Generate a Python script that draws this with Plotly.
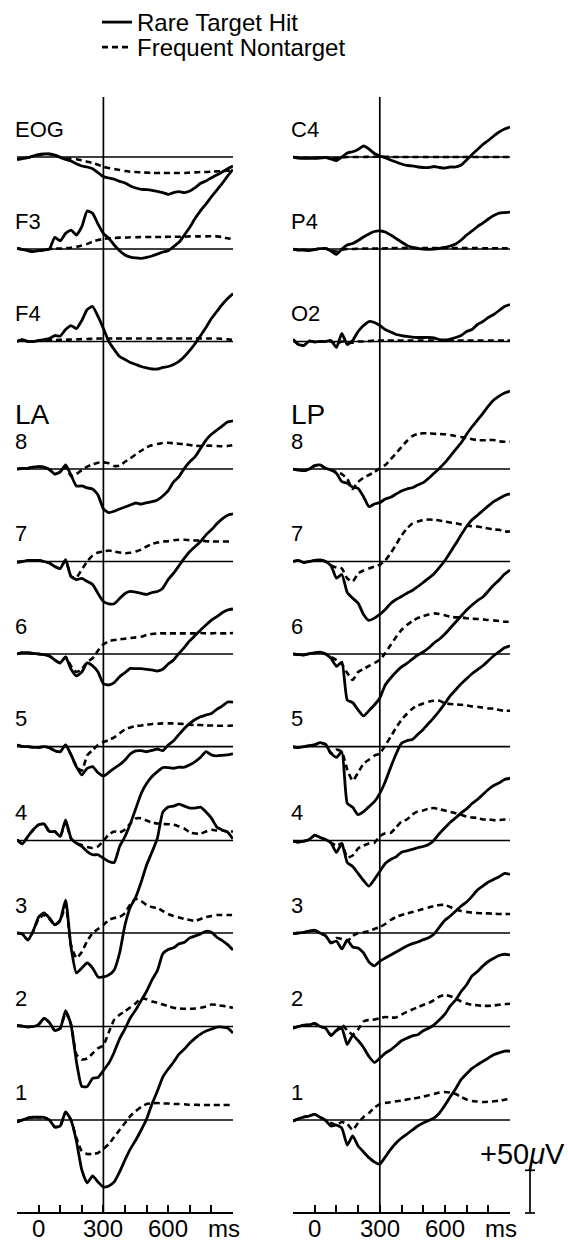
import plotly.graph_objects as go

# ---------------- data (time in ms, amplitudes in microvolts) ----------------
T_MS = [-100, -75, -50, -25, 0, 25, 50, 75, 100, 125, 150, 175, 200, 225, 250, 275, 300,
        325, 350, 375, 400, 425, 450, 475, 500, 525, 550, 575, 600, 625, 650, 675, 700,
        725, 750, 775, 800, 825, 850, 875, 900]

EOG_HIT = [-2.7,-2,-0.8,1.2,2.7,3.5,3.5,2.3,-0.4,-2.7,-4.7,-7.8,-10.5,-11.7,-13.7,-18.3,-23,-24.6,-26,-28.5,-30.4,-34,-36.3,-37.8,-38.2,-39,-40.2,-41.7,-43.7,-41.7,-40.6,-41.7,-39.8,-35.9,-30.8,-28,-24.2,-21,-17.5,-13.7,-10.5]
EOG_NON = [-2.7,-2,-0.8,1.2,2.7,3.5,3.5,2.3,-0.4,-2,-2,-2.7,-3.9,-5.5,-7,-9,-11.3,-12.9,-14,-15.2,-16.4,-17.2,-17.6,-18,-18.3,-18.7,-18.7,-18.7,-18.7,-18.7,-18.7,-18.7,-18.3,-18,-17.6,-17.6,-17.2,-16.8,-16.4,-16,-15.2]
F3_HIT = [0.8,-0.4,-2,-3.1,-2,-1.2,0,13.7,9.4,18.3,22.2,16.4,26.1,44.5,41.7,29.3,18.3,12.5,4.7,-2,-7,-9.4,-10.5,-10.9,-9.8,-8.2,-5.9,-3.5,-2,2.7,7.8,16.4,25.4,35.9,44.9,52.7,61.2,69,76.8,85.4,93.2]
F3_NON = [0.8,-0.4,-2,-3.1,-2,-1.2,0,0.5,0.5,1,1.5,2.5,4,6,8.6,10.5,11.7,12.5,12.9,13.3,13.3,13.7,13.7,14,14,14,14,14,14.4,14.4,14.4,14.4,14.8,14.8,14.8,14.8,15,14.8,14,12.5,11.7]
F4_HIT = [0,2.3,0,0,1.2,2.3,3.5,7,6.4,14,18.7,15.2,24.6,37.4,41,29.3,15.2,0,-9.4,-17.6,-21,-24.6,-26.9,-29.3,-31,-32.2,-32.2,-30.4,-29.3,-26.9,-23.4,-17.6,-10.5,-2.3,7,16.4,26.9,35.1,43.3,50.3,56.2]
F4_NON = [0,2.3,0,0,1.2,1.5,1.5,1.5,2,2,2.3,2.5,2.8,3,3.2,3.5,3.5,3.5,3.5,3.5,3.5,3.5,3.5,3.5,3.5,3.5,3.5,3.5,3.5,3.5,3.5,3.5,3.5,3.5,3.5,3.5,3.5,3.5,3,2.5,2]

C4_HIT = [0,-1.2,-1.5,-1.5,-1.5,-1.2,-0.8,-2.3,-4.1,0,4.7,6.2,8.8,12.9,9.4,4.1,1.2,-0.8,-3.5,-5.9,-8.2,-9.9,-10.5,-11.7,-12.3,-12.3,-11.1,-12.3,-12.9,-11.7,-11.7,-9.4,-3.5,2.9,8.8,14.6,19.3,24.6,29.3,32.8,35.1]
C4_NON = [0,-0.5,-1,-1,-1,-0.5,-0.5,-1,-1.5,-0.5,0,0,0,0,0.3,0.3,0.3,0.3,0,0,0,0,0,0,0,0,0,0,0,0,0,0,0,0,0,0,0,0,0,0,0]
P4_HIT = [0,-1.2,-1.2,-1.8,-0.6,0.4,0.6,-2.3,-6.4,0,4.7,6.4,9.9,14,17.6,20.5,21.1,19.9,16.4,12.3,8.2,4.1,1.8,0.8,0,-0.4,0,0.8,1.8,3.5,5.9,10.5,16.4,21.1,26.3,30.4,35.1,39.2,42.1,42.7,43.3]
P4_NON = [0,-1.2,-1.2,-1.8,-0.6,0.4,0.6,-1.5,-3,-1,0,0,0.3,0.5,0.5,0.5,0.5,0.8,1,1.2,1.2,1.2,1.2,1.2,1.2,1.2,1.2,1.2,1.2,1.2,1,1,1,1,1,0.8,0.8,0.8,0.8,0.8,0.8]
O2_HIT = [2.3,-3.5,-4.7,0.6,-0.6,0,0,1.2,-7,9.4,-3.5,1.2,11.7,18.7,23.4,22.2,18.7,14,11.1,8.2,7,5.9,5,4.7,4.7,4.7,4.1,2.3,1.8,2.9,4.7,7,11.7,14,19.9,23.4,28.1,31.6,36.3,41,43.3]
O2_NON = [2.3,-3.5,-4.7,0.6,-0.6,0,0,0,-3,0,-1,-1.5,0,0,0.5,1,1,1,1,1,1,1,1,1,1,1,1,1,1,1,1,1,1,1,1,1,1,1,1,1,1]

LA8_HIT = [0,0.8,0.8,2.3,2.7,2.3,-0.6,-5.9,-3.5,4.7,-7,-19.9,-19.9,-22.2,-23.4,-30.4,-46.8,-51.1,-49.5,-46.8,-44.5,-42.1,-39.8,-41,-39.4,-38.3,-36.3,-31.6,-25.4,-15.2,-9,0.8,8.5,14.4,24.2,33.9,40.6,45.6,50.3,55,56.5]
LA8_NON = [0,0.8,0.8,2.3,2.7,2.3,-0.6,-5.9,-3.5,2.3,-8.2,-5.9,-1.2,2.7,5.5,7.4,7.8,6.7,3.5,3.9,8.5,12.5,17.2,21.4,25.4,27.7,29.3,30.4,30.8,30.1,29.6,28.9,28.1,27.3,26.9,27.3,27.3,26.9,26.6,26.9,28.1]
LA7_HIT = [-0.8,0,1.2,1.2,1.2,0,-1.8,-5.9,-8.2,2,-17.6,-21.1,-19.9,-23.4,-26.9,-37.4,-46.8,-49.5,-49.5,-43.3,-37.4,-35.1,-35.9,-37.4,-38.6,-36.3,-35.1,-31.2,-21.1,-13.7,-5,3.9,11.7,17.6,23.4,31.2,37.1,44.1,50,54.2,55.8]
LA7_NON = [-0.8,0,1.2,1.2,1.2,0,-1.8,-5.9,-8.2,2,-17.6,-18.7,-9.4,0,7,10.5,11.7,12.9,11.7,10.5,9.7,10.2,11.7,14,17.6,20.5,22.2,23.4,23.8,24.9,25.4,25.4,24.9,24.6,24.6,23.8,23.4,23.4,23.4,23.4,23.4]
LA6_HIT = [0,1.5,1.5,0.8,0,-0.8,-2.3,-7,-10.5,-3.5,-17.6,-25.7,-21.1,-10.5,-14,-21.1,-34.8,-36.3,-33.6,-26.6,-21.9,-16.8,-17.2,-17.2,-17.9,-18.7,-19.9,-17.9,-11.7,-7,0.8,7.8,15.6,21.9,28.1,33.9,39.8,43.7,48.3,51.5,52.7]
LA6_NON = [0,1.5,1.5,0.8,0,-0.8,-2.3,-7,-10.5,-3.5,-14,-21.1,-17.6,-9.4,-5,3.9,11.3,14.9,16.4,17.2,17.9,18.7,19.5,20.2,22.2,23.4,24.2,24.2,24.2,24.2,24.2,24.2,24.2,24.2,24.6,24.2,24.2,24.6,24.2,24.2,24.6]
LA5_HIT = [2,0.4,0,-0.8,-0.8,0,-1.2,-4.7,-5.9,2,-9.4,-23.4,-33.1,-25.4,-23.4,-30.4,-34.3,-30.1,-25.4,-21.1,-15.6,-8.5,-5,-4.7,-5.9,-4.3,-2.7,-4.7,2,7,14.4,21.4,27.3,31.9,35.1,37.1,39,43.7,47.6,52.3,52.3]
LA5_NON = [2,0.4,0,-0.8,-0.8,0,-1.2,-4.7,-5.9,2,-9.4,-23.4,-28.1,-10.2,-3.9,2,5.5,7.8,10.9,15.6,20.2,22.6,24.2,24.9,25.7,26.6,26.9,27.3,27.3,27.3,26.9,26.6,25.7,25.4,25.4,24.9,24.9,24.6,24.6,24.6,24.9]
LA4_HIT = [0.8,-3.9,4.7,12.5,18.4,19.5,10.5,10.5,4.7,24.2,2.7,-3.2,-7,-12.9,-16.7,-16.7,-20.7,-24.6,-25.7,-7,4.7,19.9,37.4,55,66.7,74.9,80.7,85.4,85.4,84.6,85.8,85.8,88.6,92.4,97.5,104.1,100.3,99.1,99.8,100.3,101.4]
LA4_NON = [0.8,-3.9,4.7,12.5,18.4,19.5,10.5,10.5,4.7,21.1,2.3,-3.5,-5.3,-7.6,-8.8,-7,-0.6,7,10.5,9.4,12.9,19.9,25.7,26.1,23.4,21.1,19.9,19.3,19.1,18.4,16.4,14,9.4,8.2,8.2,10.5,12.5,11.7,11.7,10.5,10.5]
LA3_HIT = [0,-1.2,-8.2,2.3,18.7,23.4,17.6,9.4,15.2,38.6,-16.4,-46.8,-41,-35.1,-41,-51.5,-51.5,-49.1,-43.3,-23.4,9.4,30.4,42.1,59.7,79.6,94.8,111.2,141.6,147.4,148.6,150.9,148.6,146.3,146.3,147.4,141.6,134.6,124,120.5,118.2,110]
LA3_NON = [0,-1.2,-8.2,2.3,16.4,21.1,16.4,9.4,14,32.8,-14,-29.3,-22.2,-9.4,0,4.7,9.4,15.2,17.6,18.7,23.4,33.9,39.8,37.4,32.8,30.4,29.3,25.7,22.2,19.9,18.1,16.4,15.2,14,16.4,18.7,19.9,21.1,21.1,21.1,21.1]
LA2_HIT = [1.2,0.4,-0.4,0,2.3,9.4,4.7,-4.7,-2.3,18.7,2.3,-41,-70.2,-70.2,-60.8,-59.7,-51.5,-42.9,-30.1,-14.4,-2.7,10.2,19.5,30.4,41.3,54.6,65.5,85.1,90.1,92.1,96.8,98.6,103.8,106.1,108.5,111.5,110.3,104.5,100.6,95.9,89.7]
LA2_NON = [1.2,0.4,-0.4,0,2.3,9.4,4.7,-4.7,-2.3,16.4,2.3,-32.8,-38.6,-37.4,-31.6,-25.4,-22.2,-6.7,7.8,13.7,17.9,22.6,27.3,33.1,31.9,29.3,27.7,25.7,23.8,21.9,21.1,20.7,20.7,21.1,21.9,23.4,25.7,25.4,24.2,23.4,21.9]
LA1_HIT = [-2.3,0,2.3,3.2,3.2,3.2,0,-8.2,-7,9.4,0,-24.6,-58.5,-73.7,-65.5,-72.5,-78.4,-77.2,-72.5,-60.8,-46.8,-33.9,-23.4,-11.7,1.2,18.7,33.9,50.3,59.7,67.9,77.2,83.1,90.1,95.9,100.6,104.1,106.5,108.8,108.8,107.6,101.8]
LA1_NON = [-2.3,0,2.3,3.2,3.2,3.2,0,-8.2,-7,9.4,0,-21.1,-36.3,-39.8,-39.8,-38.6,-33.9,-28.1,-19.9,-11.7,-3.5,4.7,10.5,15.2,18.7,19.5,19.9,19.3,19.3,18.7,18.7,18.4,17.9,17.9,17.6,17.6,17.6,17.6,17.6,17.6,17.6]

LP8_HIT = [0,-1.2,-2,0,3.9,4.7,0.8,-1.2,-5,-14.9,-16.7,-21.4,-22.6,-32.4,-44.1,-41,-39.4,-35.1,-33.1,-29.3,-25.7,-23.4,-21.9,-18.7,-16,-10.9,-5,0.8,7.4,15.2,23,30.8,40.6,49.5,57.3,65.2,73.7,80.7,85.4,88.9,91.3]
LP8_NON = [0,-1.2,-2,0,3.9,4.7,0.8,-1.2,-3.5,-5.9,-11.7,-23.4,-15.2,-10.2,-7,-3.5,0.8,4.7,11.3,18.4,25.7,32.8,38.6,41,41.8,41.8,41.3,41,40.6,39.8,38.6,37.4,36.3,34.8,33.9,33.6,33.9,33.9,32.4,31.9,31.9]
LP7_HIT = [0,1.2,-1.2,0,1.2,2,0,-4.7,-19.5,-15.2,-36.3,-42.9,-48.8,-62,-69,-66.3,-62,-56.2,-49.1,-44.5,-41,-37.1,-33.9,-29.3,-24.6,-19.5,-14.4,-7,1.2,10.9,20.7,31.2,41,48.8,54.2,59.7,65.2,70.2,73.7,77.2,79.2]
LP7_NON = [0,1.2,-1.2,0,1.2,2,0,-4.7,-7,-8.2,-19.9,-23.4,-14,-10.5,-8.2,-5.9,-3.9,1.2,9.7,19.9,30.4,38.6,44.5,46.8,48.6,49.1,48.8,48,46.8,45.6,44.8,43.3,42.1,41.3,41,39.8,38.6,37.4,37.1,35.1,35.1]
LP6_HIT = [0,-0.8,-1.2,0.4,1.2,2.3,0,-5,-14.4,-9.4,-53.8,-57,-65.5,-72.5,-66.3,-59.7,-51.5,-36.3,-28.1,-21.1,-15.2,-11.1,-5.9,-1.2,2.3,7,12.9,17.6,23.4,30.4,37.4,44.5,51.5,57.3,62.6,66.7,73.7,80.7,86.6,93.6,98.3]
LP6_NON = [0,-0.8,-1.2,0.4,1.2,2.3,0,-3.5,-7,-11.7,-22.2,-30.4,-21.1,-17.6,-14,-10.5,-7,1.2,10.5,19.9,28.1,33.9,38.6,42.1,44.5,46.2,47.6,46.8,45.3,43.6,42.9,42.9,41.8,41.3,41,40.6,39.8,39.4,38.6,37.8,37.8]
LP5_HIT = [0,-1.2,0,1.2,2.3,4.7,2.7,-7.8,-12.5,-5.9,-66.3,-71,-79.6,-76.1,-70.2,-64.4,-54.6,-41,-24.2,-8.5,3.9,7,8.5,14.4,20.2,27.3,34.3,42.1,50.7,59.7,66.7,73.7,79.6,85.4,90.1,94.8,100.6,106.5,111.2,115.8,118.2]
LP5_NON = [0,-1.2,0,1.2,2.3,4.7,2.7,-7.8,-3.5,-5.9,-26.9,-39.8,-30.4,-19.9,-15.2,-10.5,-7.8,1.2,11.7,22.2,31.6,38.6,44.5,48.3,50.7,52.7,53.8,53.8,50.9,50,49.5,49.1,48.3,47.2,46.8,45.6,44.8,44.5,42.9,42.1,42.1]
LP4_HIT = [-0.8,-2,-0.8,1.2,6.2,3.5,1.2,-2.7,-14,-3.5,-25.7,-30.4,-38.6,-46.8,-53.5,-45.6,-36.3,-26.9,-22.2,-19.1,-13.7,-12.1,-10.5,-8.5,-7,-4.7,0.4,8.2,14.9,21.4,26.6,32.4,37.1,43.3,48,53.8,59.7,64.4,67.5,71.4,72.9]
LP4_NON = [-0.8,-2,-0.8,1.2,6.2,3.5,1.2,-2.7,-5.9,-3.5,-19.9,-17.6,-9.4,-5.9,-3.5,-2.7,5,8.5,9,15.2,22.2,24.6,30.4,33.9,35.1,37.4,38,36.6,35.1,33.6,31.9,30.1,28.1,26.9,26.6,24.6,24.6,23.8,23.8,24.6,24.6]
LP3_HIT = [-0.8,0,0.8,2.3,3.2,0,-3.2,-11.7,-9.4,-18.7,-8.2,-16.4,-17.6,-23.4,-33.9,-38.6,-33.1,-29.3,-25.7,-22.2,-18.7,-15.2,-12.5,-10.5,-7.8,-5.5,-1.2,7,14.9,19.9,25.7,31.6,36.3,42.9,50.3,55,59.7,62.8,65.9,69.8,68.7]
LP3_NON = [-0.8,0,0.8,2.3,3.2,0,-3.2,-11.7,-5.9,-7,-9.4,-3.5,0,0.8,2,4.7,7,10.5,15.2,18.7,21.1,22.8,24.6,26.3,28.1,29.8,31.6,32.8,32.8,30.4,27.5,25.7,24.6,23.8,23.4,23,23,22.6,22.2,22.2,22.2]
LP2_HIT = [-2,0,1.5,2,3.5,0,-2,-10.5,-4.7,-2.3,-21.1,-10.5,-16.4,-24.6,-35.1,-42.1,-37.1,-31.2,-27.3,-22.2,-16.7,-13.7,-10.9,-9.7,-5,-2,2,7.8,14.4,24.2,31.2,41,48.8,59.3,64.4,71,76.1,79.9,83.1,84.6,83.9]
LP2_NON = [-2,0,1.5,2,3.5,0,-2,-10.5,-4.7,2.3,-4.7,-9.4,-3.5,5.9,7.8,8.2,9.7,11.1,10.5,10.5,14,17.2,19.9,22.6,25.2,27.5,31,35.1,37.1,35.5,32.8,29.3,26.9,25.4,24.8,24.2,24.2,24.6,25.4,26.1,26.6]
LP1_HIT = [-1.2,1.5,3.5,4.7,6.7,3.2,-0.4,-7,-5.9,-9.4,-29.3,-18.7,-30.4,-37.4,-44.1,-49.1,-51.5,-43.3,-34.5,-26.9,-21.1,-16.4,-11.7,-7,-3.5,-0.6,2.3,8.2,17.2,27.3,36.6,47.6,54.2,60.5,64.7,68.7,72.5,76.4,78.7,80.7,80.7]
LP1_NON = [-1.2,1.5,3.5,4.7,6.7,3.2,-0.4,-3.5,-5.9,-2.3,-4.7,-11.7,-3.5,3.5,8.2,14.4,18.4,19.9,20.8,21.9,22.6,24,24.9,26.1,27.5,28.9,30.4,32.2,32.8,32.2,30.4,26.9,24,22.2,21.6,21.1,21.4,21.9,22.6,23.8,24.6]

LEFT_LABELS = ["EOG", "F3", "F4", "8", "7", "6", "5", "4", "3", "2", "1"]
RIGHT_LABELS = ["C4", "P4", "O2", "8", "7", "6", "5", "4", "3", "2", "1"]
LEFT_HIT = [EOG_HIT, F3_HIT, F4_HIT, LA8_HIT, LA7_HIT, LA6_HIT, LA5_HIT, LA4_HIT, LA3_HIT, LA2_HIT, LA1_HIT]
LEFT_NON = [EOG_NON, F3_NON, F4_NON, LA8_NON, LA7_NON, LA6_NON, LA5_NON, LA4_NON, LA3_NON, LA2_NON, LA1_NON]
RIGHT_HIT = [C4_HIT, P4_HIT, O2_HIT, LP8_HIT, LP7_HIT, LP6_HIT, LP5_HIT, LP4_HIT, LP3_HIT, LP2_HIT, LP1_HIT]
RIGHT_NON = [C4_NON, P4_NON, O2_NON, LP8_NON, LP7_NON, LP6_NON, LP5_NON, LP4_NON, LP3_NON, LP2_NON, LP1_NON]

TICK_MS = [-100, 0, 100, 200, 300, 400, 500, 600, 700, 800, 900]
LABEL_MS = [0, 300, 600]
LABEL_TEXT = ["0", "300", "600"]
STIMULUS_MS = 300
SCALE_UV = 50

for grp in (LEFT_HIT, LEFT_NON, RIGHT_HIT, RIGHT_NON):
    for s in grp:
        if len(s) != len(T_MS):
            raise ValueError("series length mismatch: %d" % len(s))

# ---------------- layout geometry ----------------
W, H = 568, 1243
FONT = "Liberation Sans, Arial, Helvetica, sans-serif"
PX_PER_UV = 42.7 / 50.0            # vertical scale (42.7 px per 50 uV)
Y_MAX = H / PX_PER_UV
ROW_PX = [157, 249, 341.5, 469, 561.5, 654, 746.7, 840.5, 933, 1026.5, 1120]
AXIS_PX = 1213
TICKLABEL_PX = 1228
TOP_LINE_PX = 97


def px_to_y(px):
    return (H - px) / PX_PER_UV


AXIS_Y = px_to_y(AXIS_PX)
LEFT_DOM = [17 / W, 233 / W]
RIGHT_DOM = [293 / W, 510 / W]

fig = go.Figure()
shapes = []
annotations = []

HIT_LINE = dict(color="black", width=2.8, shape="spline", smoothing=0.5)
NON_LINE = dict(color="black", width=2.6, dash="6px,4px", shape="spline", smoothing=0.5)
TICK_FONT = dict(size=24, color="black", family=FONT)

first = True
for xa, labels, hits, nons, xlab in (("x", LEFT_LABELS, LEFT_HIT, LEFT_NON, 13),
                                      ("x2", RIGHT_LABELS, RIGHT_HIT, RIGHT_NON, 289)):
    for i, lab in enumerate(labels):
        off = px_to_y(ROW_PX[i])
        shapes.append(dict(type="line", xref=xa, yref="y", x0=-110, x1=900, y0=off, y1=off,
                           line=dict(color="black", width=1.7), layer="below"))
        fig.add_trace(go.Scatter(x=T_MS, y=[v + off for v in hits[i]], xaxis=xa, yaxis="y",
                                 mode="lines", line=HIT_LINE, name="Rare Target Hit",
                                 legend="legend", showlegend=first, hoverinfo="skip"))
        fig.add_trace(go.Scatter(x=T_MS, y=[v + off for v in nons[i]], xaxis=xa, yaxis="y",
                                 mode="lines", line=NON_LINE, name="Frequent Nontarget",
                                 legend="legend2", showlegend=first, hoverinfo="skip"))
        first = False
        annotations.append(dict(xref="paper", yref="y", x=xlab / W, y=off, yshift=28,
                                xanchor="left", yanchor="middle", showarrow=False, text=lab,
                                font=dict(size=22, color="black", family=FONT)))
    shapes.append(dict(type="line", xref=xa, yref="y", x0=STIMULUS_MS, x1=STIMULUS_MS,
                       y0=AXIS_Y, y1=px_to_y(TOP_LINE_PX), line=dict(color="black", width=1.7)))
    # time-axis labels
    for tv, tt in zip(LABEL_MS, LABEL_TEXT):
        annotations.append(dict(xref=xa, yref="paper", x=tv, y=(H - TICKLABEL_PX) / H,
                                xanchor="center", yanchor="middle", showarrow=False, text=tt,
                                font=TICK_FONT))
    annotations.append(dict(xref=xa, yref="paper", x=860, y=(H - TICKLABEL_PX) / H,
                            xanchor="center", yanchor="middle", showarrow=False, text="ms",
                            font=TICK_FONT))

for xpx, txt in ((13, "LA"), (289, "LP")):
    annotations.append(dict(xref="paper", yref="y", x=xpx / W, y=px_to_y(414), xanchor="left",
                            yanchor="middle", showarrow=False, text=txt,
                            font=dict(size=28, color="black", family=FONT)))

# calibration bar
BAR_X = 530 / W
CAP = 5 / W
shapes.append(dict(type="line", xref="paper", yref="y", x0=BAR_X, x1=BAR_X,
                   y0=AXIS_Y, y1=AXIS_Y + SCALE_UV, line=dict(color="black", width=1.7)))
for yy in (AXIS_Y, AXIS_Y + SCALE_UV):
    shapes.append(dict(type="line", xref="paper", yref="y", x0=BAR_X - CAP, x1=BAR_X + CAP,
                       y0=yy, y1=yy, line=dict(color="black", width=1.7)))
annotations.append(dict(xref="paper", yref="y", x=567 / W, y=AXIS_Y + SCALE_UV, yshift=-2,
                        xanchor="right", yanchor="bottom", showarrow=False,
                        text="+50<i>\u03bc</i>V", font=dict(size=29, color="black", family=FONT)))

xaxis_common = dict(range=[-100, 900], anchor="free", position=(H - AXIS_PX) / H,
                    showline=True, linecolor="black", linewidth=1.7, ticks="inside",
                    ticklen=7, tickwidth=1.5, tickcolor="black", tickvals=TICK_MS,
                    showticklabels=False, showgrid=False, zeroline=False, fixedrange=True)

legend_common = dict(xanchor="left", yanchor="top", bgcolor="rgba(0,0,0,0)",
                     font=dict(size=24, color="black", family=FONT), itemwidth=30)

fig.update_layout(
    width=W, height=H,
    margin=dict(l=0, r=0, t=0, b=0, pad=0, autoexpand=False),
    paper_bgcolor="white", plot_bgcolor="white",
    xaxis=dict(domain=LEFT_DOM, **xaxis_common),
    xaxis2=dict(domain=RIGHT_DOM, **xaxis_common),
    yaxis=dict(domain=[0, 1], range=[0, Y_MAX], visible=False, fixedrange=True),
    showlegend=True,
    legend=dict(x=97 / W, y=1.0, **legend_common),
    legend2=dict(x=97 / W, y=1 - 25 / H, **legend_common),
    shapes=shapes, annotations=annotations,
    font=dict(family=FONT, color="black"),
)

fig.write_html("out.html", config={"displayModeBar": False},
               post_script="document.body.style.margin='0px';")
